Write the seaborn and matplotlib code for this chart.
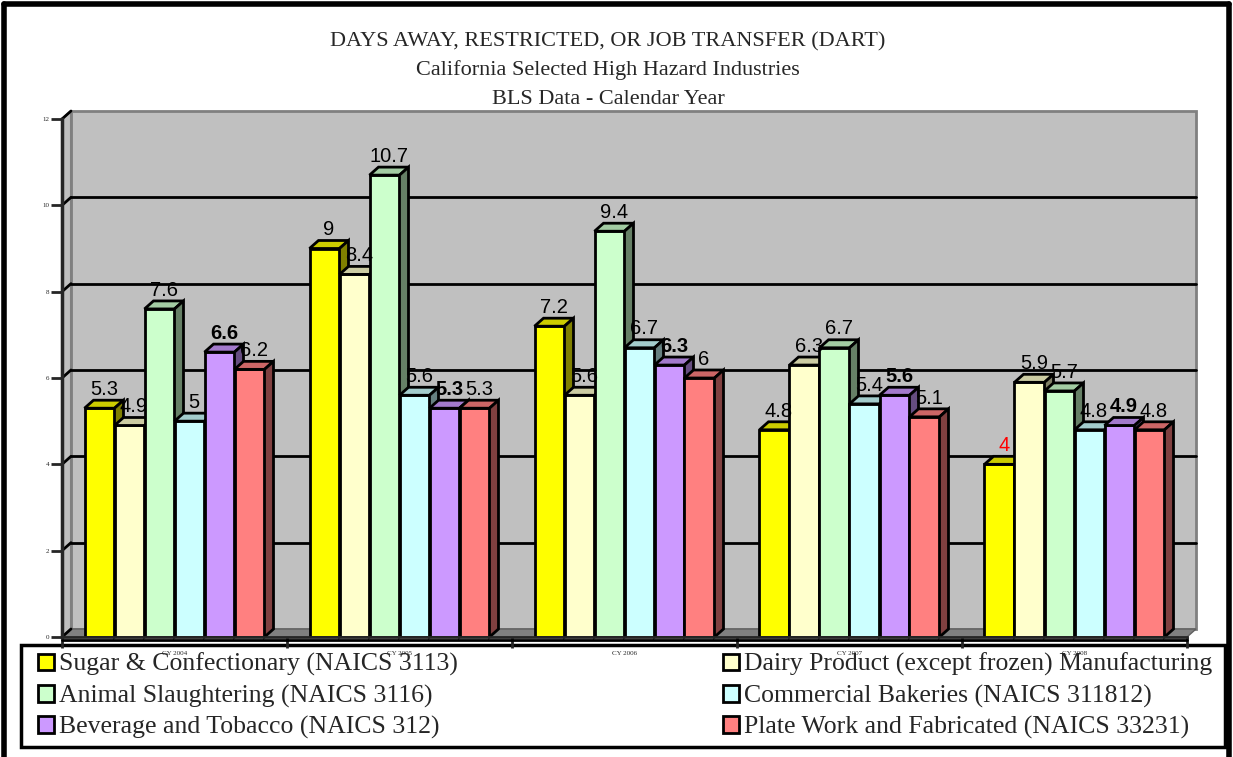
import matplotlib
matplotlib.use("Agg")
import matplotlib.pyplot as plt
from matplotlib.patches import Polygon, Rectangle
from matplotlib.lines import Line2D
import matplotlib.colors as mcolors
import numpy as np
import pandas as pd
import seaborn as sns

years = ["CY 2004", "CY 2005", "CY 2006", "CY 2007", "CY 2008"]
industries = [
    "Sugar & Confectionary (NAICS 3113)",
    "Dairy Product (except frozen) Manufacturing",
    "Animal Slaughtering (NAICS 3116)",
    "Commercial Bakeries (NAICS 311812)",
    "Beverage and Tobacco (NAICS 312)",
    "Plate Work and Fabricated (NAICS 33231)",
]
sugar = [5.3, 9, 7.2, 4.8, 4]
dairy = [4.9, 8.4, 5.6, 6.3, 5.9]
slaughter = [7.6, 10.7, 9.4, 6.7, 5.7]
bakeries = [5, 5.6, 6.7, 5.4, 4.8]
beverage = [6.6, 5.3, 6.3, 5.6, 4.9]
plate = [6.2, 5.3, 6, 5.1, 4.8]
colors = ["#FFFF00", "#FFFFCC", "#CCFFCC", "#CCFFFF", "#CC99FF", "#FF8080"]
yticks = [0, 2, 4, 6, 8, 10, 12]

series = [sugar, dairy, slaughter, bakeries, beverage, plate]
rows = []
for name, vals in zip(industries, series):
    for yr, v in zip(years, vals):
        rows.append((yr, name, v))
df = pd.DataFrame(rows, columns=["Year", "Industry", "Value"])

sns.set_style("white")
plt.rcParams["font.family"] = ["Liberation Serif", "DejaVu Serif"]

W, H = 1233, 757
fig = plt.figure(figsize=(W / 100, H / 100), dpi=100)
ax = fig.add_axes([62 / W, (H - 637) / H, 1125 / W, 518 / H])
ax.set_facecolor("none")

sns.barplot(data=df, x="Year", y="Value", hue="Industry", order=years,
            hue_order=industries, palette=colors, saturation=1, edgecolor="black",
            linewidth=2, width=0.8, gap=0, legend=False, ax=ax)

ax.set_xlim(-0.5, 4.5)
ax.set_ylim(0, 12)

# 3D depth offset (pixels -> data units)
px_x = 5.0 / 1125
px_y = 12.0 / 518
ddx = 9 * px_x
ddy = 8 * px_y

# back wall, side wall and floor
ax.add_patch(Rectangle((-0.5 + ddx, ddy), 5, 12, facecolor="#C0C0C0",
                       edgecolor="#808080", lw=2, zorder=0.1, clip_on=False))
ax.add_patch(Polygon([(-0.5, 0), (-0.5 + ddx, ddy), (-0.5 + ddx, 12 + ddy), (-0.5, 12)],
                     closed=True, facecolor="#C0C0C0", edgecolor="#808080", lw=1.5,
                     zorder=0.2, clip_on=False))
ax.add_patch(Polygon([(-0.5, 0), (4.5, 0), (4.5 + ddx, ddy), (-0.5 + ddx, ddy)],
                     closed=True, facecolor="#808080", edgecolor="#606060", lw=1,
                     zorder=0.2, clip_on=False))
for t in yticks[1:-1]:
    ax.plot([-0.5 + ddx, 4.5 + ddx], [t + ddy, t + ddy], color="black", lw=2,
            zorder=0.3, clip_on=False)
for t in yticks:
    ax.plot([-0.5, -0.5 + ddx], [t, t + ddy], color="black", lw=2,
            zorder=0.3, clip_on=False)

# 3D faces for bars, and value labels
for si, cont in enumerate(ax.containers):
    base = np.array(mcolors.to_rgb(colors[si]))
    top_c = base * 0.8
    side_c = base * 0.5
    for bar in cont:
        x0 = bar.get_x()
        x1 = x0 + bar.get_width()
        y1 = bar.get_height()
        z = 2 + x0 * 0.1
        bar.set_zorder(z)
        ax.add_patch(Polygon([(x0, y1), (x1, y1), (x1 + ddx, y1 + ddy), (x0 + ddx, y1 + ddy)],
                             closed=True, facecolor=top_c, edgecolor="black", lw=2,
                             zorder=z + 0.001, clip_on=False))
        ax.add_patch(Polygon([(x1, 0), (x1 + ddx, ddy), (x1 + ddx, y1 + ddy), (x1, y1)],
                             closed=True, facecolor=side_c, edgecolor="black", lw=2,
                             zorder=z + 0.002, clip_on=False))
        lbl = f"{y1:g}"
        col = "red" if (si == 0 and y1 == 4) else "black"
        ax.text((x0 + x1) / 2 + ddx / 2, y1 + ddy + 0.03, lbl, ha="center", va="bottom",
                fontsize=14.5, color=col, fontweight="bold" if si == 4 else "normal",
                family=["Liberation Sans", "DejaVu Sans"], zorder=10)

# axes styling
for s in ["top", "right"]:
    ax.spines[s].set_visible(False)
ax.spines["left"].set_linewidth(2.5)
ax.spines["bottom"].set_linewidth(2)
ax.spines["left"].set_zorder(5)
ax.spines["bottom"].set_zorder(5)
ax.set_yticks(yticks)
ax.tick_params(axis="y", direction="out", length=8, width=2, labelsize=5, pad=1, left=True)
ax.set_xticks(range(len(years)))
ax.set_xticklabels(years)
ax.tick_params(axis="x", length=0, labelsize=5, pad=10)
ax.set_xticks(np.arange(-0.5, 5, 1), minor=True)
ax.tick_params(axis="x", which="minor", direction="out", length=8, width=2, bottom=True)
ax.plot([-0.5, 4.5], [-3 * px_y, -3 * px_y], color="black", lw=2, clip_on=False, zorder=5)
ax.set_xlabel("")
ax.set_ylabel("")

# titles
fig.text(608 / W, 1 - 42 / H, "DAYS AWAY, RESTRICTED, OR JOB TRANSFER (DART)",
         ha="center", va="center", fontsize=16)
fig.text(608 / W, 1 - 70 / H, "California Selected High Hazard Industries",
         ha="center", va="center", fontsize=16)
fig.text(608 / W, 1 - 99 / H, "BLS Data - Calendar Year",
         ha="center", va="center", fontsize=16)

# legend: two columns, row-wise order
handles = [Rectangle((0, 0), 1, 1, facecolor=c, edgecolor="black", lw=2) for c in colors]
leg_kw = dict(loc="center left", frameon=False, fontsize=18.5, handlelength=0.62,
              handleheight=0.62, handletextpad=0.18, labelspacing=0.32,
              borderpad=0, borderaxespad=0)
fig.legend([handles[i] for i in [0, 2, 4]], [industries[i] for i in [0, 2, 4]],
           bbox_to_anchor=(38 / W, 1 - 696 / H), **leg_kw)
fig.legend([handles[i] for i in [1, 3, 5]], [industries[i] for i in [1, 3, 5]],
           bbox_to_anchor=(723 / W, 1 - 696 / H), **leg_kw)
fig.add_artist(Rectangle((21 / W, 1 - 747 / H), (1225 - 21) / W, (747 - 645) / H,
                         transform=fig.transFigure, facecolor="none", edgecolor="black",
                         lw=2.5, zorder=0))

# outer frame
fig.add_artist(Line2D([4 / W, 4 / W], [0, 1 - 4 / H], color="black", lw=4, transform=fig.transFigure))
fig.add_artist(Line2D([4 / W, 1229 / W], [1 - 4 / H, 1 - 4 / H], color="black", lw=4, transform=fig.transFigure))
fig.add_artist(Line2D([1229 / W, 1229 / W], [0, 1 - 4 / H], color="black", lw=4, transform=fig.transFigure))

fig.savefig("out.png", dpi=100)
